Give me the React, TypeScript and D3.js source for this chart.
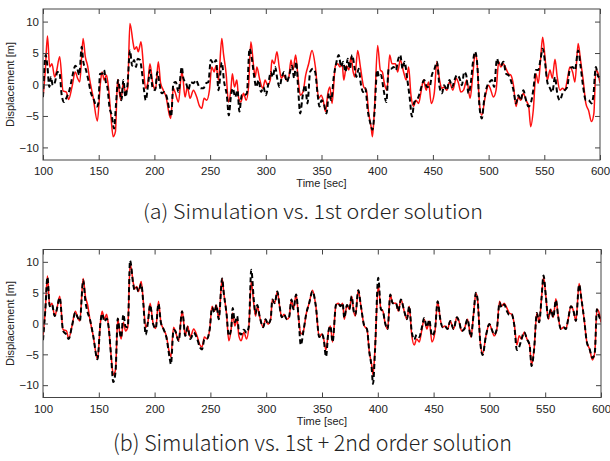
import React, { useEffect, useRef } from 'react';
import * as d3 from 'd3';

// [time (sec), displacement (m)]
const simulation: [number, number][] = [
  [100, -2], [102, 2], [104, 7.7], [106, 2.8], [108, 3.3], [110.5, 1.2], [112, 2], [115, 4.4], [118, -1], [121, -1.2],
  [123, -2.4], [126, -0.4], [129, 2], [131, 1], [133, 0.4], [136, 7.3], [138, 4.4], [140, 3], [142, 0.7], [145, -2],
  [148.8, -5.8], [151.5, 0.2], [153, 2], [155, 0.7], [157, 1.5], [159, -0.9], [161, -5.1], [163, -8.3], [165, -7.5], [167, 0.8],
  [168.5, -1.2], [170, -2.5], [172, 0.2], [174, -1.2], [176, -0.6], [178, 9.7], [181, 6.5], [182, 5.6], [184, 6], [185.5, 5.2],
  [188, 6.8], [190, 3.3], [192, -0.6], [194, 0.2], [196, 3.3], [198.5, 0.2], [201, -0.8], [203.5, 3.6], [205.6, 0.2], [208, -0.9],
  [210.5, -2], [213.5, -4.9], [214.6, -5.4], [217, -0.6], [218.5, -1.2], [221.6, -2.8], [224.6, 2], [225.5, 1.2], [227.5, -2], [229.6, -0.4],
  [232, -2.2], [235, -0.9], [238, -2], [240.4, -3.4], [242.5, -3.8], [244.6, -2.2], [247, -2.5], [249.4, -0.9], [251.5, 2.8], [253.6, 2],
  [255.4, 3], [257.5, 0.7], [260.5, 7.3], [262, 4.9], [264.4, 1.7], [266.5, -2.8], [268.6, -0.9], [270, 1.7], [271.9, -0.4], [274, 0.7],
  [275.5, -2], [277.6, -2.8], [280, -1.4], [282.4, -2.5], [284.5, -0.4], [286.6, 6.8], [289, 3], [290.5, 1.2], [292, 2.8], [294.3, 1],
  [297.3, -0.6], [299.4, 0.7], [301.5, -0.1], [304, 0.7], [305.5, 3.9], [307.6, 3.3], [310, 5.2], [312, 2.8], [314, 1], [316, 1.5],
  [318.4, 0.7], [320.5, 1], [322.6, 3.9], [324.4, 2.3], [326.8, 4.7], [328.9, 1.2], [331, -1.7], [333.4, -1.2], [335.8, 1.5], [338.5, 3.3],
  [341.5, 5.4], [344.5, 2.8], [347.5, -2.2], [349.7, -1.7], [351.5, -2.5], [353.6, -4.3], [355.7, -1.4], [357.5, -0.4], [359.5, -3], [362.5, 3],
  [364.6, 3.3], [366.4, 2.8], [368.5, 3.3], [370, 0.7], [372.4, 3], [374.5, 2.3], [376.6, 4.4], [378.4, 2], [379.9, 1.2], [382.5, 5.4],
  [384.9, 2.8], [387.9, -0.4], [390.3, -0.9], [392.4, -4.6], [394.5, -6.7], [395.7, -8.3], [397.5, -4.1], [400.4, 6.2], [402.8, 2.3], [404.6, 2],
  [406.4, 0.2], [408.8, -0.9], [411.2, 4.7], [413.3, 3.3], [416.3, 3.3], [418.4, 2], [420.7, 3.9], [423.7, 2], [426.1, 0.7], [428.2, 2.8],
  [430.3, -1.7], [432.7, -3.5], [434.8, -2.5], [437.2, -3], [439.3, -1.2], [441.6, 0.7], [444, -0.9], [446.1, 0.4], [448.5, -3], [451.2, -1.4],
  [453.6, 3.6], [456, 0.7], [458, -0.6], [460.1, -0.4], [462.5, -0.9], [464.9, 0.4], [467.9, -0.9], [470.9, 1], [473, 0.2], [475.1, -1.2],
  [477.5, -0.9], [480.4, 0.7], [483.4, -2.2], [485.8, 1.5], [487.9, 4.9], [489.4, 3.9], [491.8, -3], [493.9, -4.9], [496.9, -2], [500, -0.1],
  [502, -0.9], [504.3, -2], [506.7, -0.9], [509.1, 3.6], [510.9, 2.8], [513.3, 3.3], [515.7, 2.5], [517.8, 1.7], [519.9, 1.5], [522.3, -0.1],
  [524.6, -3.5], [526.7, -2], [528.8, -2.5], [531.2, -1.4], [533.6, -2.5], [536, -3.5], [537.8, -6.7], [540.1, -4.1], [542.5, 1.7], [544.6, 0.2],
  [546.7, 4.1], [548.5, 7.5], [550.6, 4.4], [552.7, 0.7], [555.1, 2.3], [557.2, 1], [559.6, 4], [561.6, 1.2], [564, -0.9], [566.4, -0.6],
  [568.5, -0.9], [570.6, 0.7], [573, 2.8], [575.4, 2], [577.5, 0.4], [580.4, 6.5], [582.5, 3.9], [584.9, 0.7], [587.3, -3], [589.7, -4.1],
  [592.4, -5.9], [594.5, -4.6], [596.3, 2.3], [597.8, 2], [600, 0.2],
];

const firstOrder: [number, number][] = [
  [100, -2], [102.4, 4.7], [104, 2.8], [105.7, -0.4], [107.2, 1.2], [108.7, -0.1], [110.8, 0.4], [112.9, 2], [114.7, 2], [116.8, -1.7],
  [118.9, -2.8], [121.3, -2], [123.7, -0.9], [125.7, 0.7], [127.2, 2], [129, 3], [130.8, 2.5], [132.6, 1.5], [134.7, 6], [136.2, 3.6],
  [138.6, 2.3], [140.7, 0.7], [143.1, -1.4], [145.2, -2.2], [148.2, -3.5], [149.7, -3], [151.2, 1.7], [153, 1.7], [154.8, 2.3], [156.6, 0.2],
  [157.8, -0.4], [159.6, -3.5], [161.7, -4.9], [163.8, -7], [165.6, -3], [167.4, 0.7], [168.6, -0.4], [170.4, -2.5], [172.2, 0.7], [174, -2],
  [175.8, -0.1], [178.1, 5.4], [180, 3], [181.7, 3.9], [183.5, 2.8], [185, 4.1], [187.1, 3.9], [188.6, 2.3], [190.7, -0.9], [192.2, -2.5],
  [194.6, 0.4], [196.1, 2.3], [198.5, -0.6], [200.6, -0.9], [202.7, 2], [204.5, 0.2], [206.6, -1.4], [208.7, -1.2], [211.1, -2], [213.5, -4.1],
  [215, -5.1], [217.1, 0.2], [219.2, 0.4], [221.6, -1.2], [224.6, 2.8], [226, 1], [228.5, 0.2], [230.5, -0.9], [232.6, 0.4], [235, 0.2],
  [237.4, 0.7], [239.5, -0.1], [241.6, -0.6], [244, -0.6], [246.4, 0.2], [248.5, 0.4], [250.6, 3.9], [253, 3.3], [255.4, 3.9], [257.5, -0.9],
  [260.5, 3.5], [262.6, 0.4], [265, -1.7], [266.8, -4.9], [268.6, -2], [270.4, -0.6], [272.5, -2], [274.6, -0.9], [276.3, -4.3], [278.4, -1.7],
  [280.8, -1.7], [283, -1.4], [285.4, 5.7], [287.5, 4.1], [289.6, 1.2], [291.4, -0.4], [293.5, 0.7], [295.8, -1.2], [297.9, -0.4], [300, -1.7],
  [302.4, 0.2], [304.5, 2], [306.3, 1.2], [308.4, 2.8], [310.5, 0.7], [312.3, -0.4], [314.4, 1.2], [316.5, 2], [318.9, 0.4], [321.3, 1.7],
  [323.4, 3], [325.5, 1], [327.2, 3.6], [329.3, -1.4], [330.8, -4.6], [333.2, -1.7], [335.3, -0.1], [337.4, -3], [339.8, 2], [342.2, 2.5],
  [344.3, 2], [346.4, -1.4], [348.2, -3.5], [350, -2.5], [352, -3], [354.5, -4.6], [356.6, -1.4], [358.7, -2.5], [361, 1.2], [363.1, 3.3],
  [365.5, 4.7], [367.6, 2.8], [369.4, 3.6], [371.5, 2], [373.6, 4.1], [375.4, 2.5], [377.5, 4.7], [379.6, 2.8], [381.3, 1.2], [383.4, 2.5],
  [385.5, -0.1], [387.3, -1.2], [389.4, -0.6], [391.5, -4.1], [393.9, -6.2], [395.7, -7.2], [397.5, -4.6], [400, 2.3], [401.6, 1.2], [403.4, 1.5],
  [405.8, -0.9], [408.2, -2.8], [410.3, 2.5], [412.4, 2.5], [414.8, 2.8], [416.9, 2.3], [418.7, 3.9], [420.7, 4.7], [422.8, 2.5], [424.6, 3.6],
  [426.7, 1.2], [429.1, -2], [431.2, -5.1], [433.3, -2.8], [435.7, -2.5], [438.1, -1.4], [440.1, -0.1], [442.2, 0.7], [444.6, -0.4], [447, -0.4],
  [449.1, 1.5], [451.5, 2.5], [453.6, 3.6], [456, -0.4], [458.1, -1.4], [460.1, -0.1], [462.5, -0.9], [464.9, 0.7], [467.3, -0.4], [469.4, 0.7],
  [471.5, 1.5], [473.9, 1], [476, -0.1], [478.1, 2], [479.9, 1.5], [481.9, -1.4], [484, 0.2], [485.8, 3.3], [487.9, 5.2], [490, 2.8],
  [491.8, -3.5], [493.9, -5.4], [496, -2.5], [498.4, -0.4], [500.9, 0.4], [503, 0.7], [505, -0.4], [507.5, 4.1], [509, 3.3], [511, 3],
  [513.3, 3.6], [515.7, 1.7], [517.8, 1.5], [519.9, 0.7], [522.3, -0.9], [524.6, -3], [526.7, -1.7], [528.8, -2.5], [531.2, -0.9], [533.6, -2.5],
  [535.7, -3.5], [537.8, -3], [540.1, -0.9], [542.5, 2.3], [544.6, 2.3], [546.7, 4.1], [548.5, 5.7], [550.6, 3.6], [552.7, 0.4], [555.1, -0.6],
  [557.2, -1.2], [559.6, 1.2], [561.6, -1.4], [564, -2.5], [566.4, -1.4], [568.5, -0.9], [570.6, -0.4], [573, 2.5], [575.4, 2.8], [577.5, 2.3],
  [580.4, 5.4], [582.5, 3], [584.9, -0.4], [587.3, -2.5], [589.7, -2.5], [592.4, -3], [593.9, -2], [596.3, 2.8], [598.4, 1.2], [600, 1.5],
];

const secondOrder: [number, number][] = [
  [100, -2.7], [102, 2], [104, 7.5], [106, 2.8], [108, 3.1], [110.5, 1.2], [112, 2], [115, 4.2], [118, -1.2], [121, -1.8],
  [123, -2.5], [126, -0.4], [129, 1.8], [131, 1], [133, 0.4], [136, 7], [138, 3.6], [140, 1.8], [142, 0.7], [145, -2],
  [148.8, -5.8], [151.5, 0.2], [153, 1.6], [155, 0.3], [157, 0.8], [159, -0.9], [161, -5.3], [163, -9.5], [165, -7.8], [167, 0.8],
  [168.5, -1], [170, -2.3], [172, 1.5], [174, -0.5], [176, -0.6], [178, 10.2], [181, 6.2], [182, 5.4], [184, 5.8], [185.5, 5.2],
  [188, 6.4], [190, 3], [192, -1.8], [194, 0.2], [196, 3], [198.5, 0], [201, -0.8], [203.5, 3.2], [205.6, 0.2], [208, -0.9],
  [210.5, -2.2], [213.5, -5.6], [214.6, -6.6], [217, -1], [218.5, -1.2], [221.6, -2.8], [224.6, 2], [225.5, 1.2], [227.5, -2], [229.6, -0.6],
  [232, -2.5], [235, -1.5], [238, -2.4], [240.4, -3.8], [242.5, -4.2], [244.6, -2.6], [247, -2.5], [249.4, -0.9], [251.5, 2.6], [253.6, 1.8],
  [255.4, 3], [257.5, 0.7], [260.5, 7.3], [262, 4.9], [264.4, 1.7], [266.5, -2], [268.6, -0.9], [270, 2.5], [271.9, 0.2], [274, 1.2],
  [275.5, -1.2], [277.6, -1.8], [280, -1], [282.4, -1.5], [284.5, -0.4], [286.6, 8.7], [289, 3.6], [290.5, 1.6], [292, 3], [294.3, 1],
  [297.3, -0.6], [299.4, 0.7], [301.5, -0.1], [304, 0.7], [305.5, 3.9], [307.6, 3.3], [310, 5.2], [312, 2.8], [314, 1], [316, 1.5],
  [318.4, 0.7], [320.5, 1], [322.6, 3.9], [324.4, 2.3], [326.8, 4.7], [328.9, 1.2], [331, -3.5], [333.4, -1.2], [335.8, 1.5], [338.5, 3.3],
  [341.5, 5.2], [344.5, 2.8], [347.5, -2.2], [349.7, -1.7], [351.5, -2.5], [353.6, -5.4], [355.7, -1.4], [357.5, -0.4], [359.5, -3], [362.5, 3],
  [364.6, 3.3], [366.4, 2.8], [368.5, 3.3], [370, 0.9], [372.4, 3], [374.5, 2.3], [376.6, 4.4], [378.4, 2], [379.9, 1.4], [382.5, 5.4],
  [384.9, 2.8], [387.9, -0.4], [390.3, -0.9], [392.4, -4.6], [394.5, -7.2], [395.7, -9.8], [397.5, -4.4], [400.4, 7.4], [402.8, 2.3], [404.6, 2],
  [406.4, 0.2], [408.8, -0.9], [411.2, 4.7], [413.3, 3.3], [416.3, 3.3], [418.4, 2], [420.7, 3.9], [423.7, 2], [426.1, 0.7], [428.2, 2.8],
  [430.3, -1.2], [432.7, -2.6], [434.8, -1.8], [437.2, -2.2], [439.3, -0.8], [441.6, 0.9], [444, -0.6], [446.1, 0.6], [448.5, -2], [451.2, -1],
  [453.6, 3.6], [456, 0.7], [458, -0.6], [460.1, -0.4], [462.5, -0.9], [464.9, 0.4], [467.9, -0.9], [470.9, 1], [473, 0.2], [475.1, -1.2],
  [477.5, -0.9], [480.4, 0.7], [483.4, -2.2], [485.8, 1.5], [487.9, 5], [489.4, 3.9], [491.8, -3], [493.9, -5.1], [496.9, -2], [500, -0.1],
  [502, -0.9], [504.3, -1.8], [506.7, -0.9], [509.1, 3.4], [510.9, 2.6], [513.3, 3.1], [515.7, 2], [517.8, 1.4], [519.9, 1.5], [522.3, -0.3],
  [524.6, -4.3], [526.7, -3.8], [528.8, -2.5], [531.2, -1.4], [533.6, -2.5], [536, -3.5], [537.8, -6.9], [540.1, -4.1], [542.5, 1.7], [544.6, 0.2],
  [546.7, 4.1], [548.5, 7.8], [550.6, 4.4], [552.7, 0.9], [555.1, 2.3], [557.2, 1], [559.6, 3.8], [561.6, 1.2], [564, -0.9], [566.4, -0.6],
  [568.5, -0.9], [570.6, 0.7], [573, 2.8], [575.4, 2], [577.5, 0.4], [580.4, 6.3], [582.5, 3.9], [584.9, 0.7], [587.3, -3], [589.7, -4.1],
  [592.4, -5.6], [594.5, -4.6], [596.3, 2.3], [597.8, 1.4], [600, 0.4],
];

const xTicks = [100, 150, 200, 250, 300, 350, 400, 450, 500, 550, 600];
const yTicks = [-10, -5, 0, 5, 10];
const captions = ['(a) Simulation vs. 1st order solution', '(b) Simulation vs. 1st + 2nd order solution'];

const panels = [
  { model: firstOrder, top: 9, bottom: 160, right: 600, caption: captions[0], capY: 219, capX0: 143, capW: 340, capSize: 20 },
  { model: secondOrder, top: 249.5, bottom: 397.5, right: 601, caption: captions[1], capY: 451, capX0: 113, capW: 399, capSize: 22 },
];

export default function App() {
  const ref = useRef<SVGSVGElement>(null);

  useEffect(() => {
    const svg = d3.select(ref.current);
    svg.selectAll('*').remove();
    const axisFont = 'Liberation Sans, Arial, sans-serif';
    const left = 43;

    panels.forEach((p, i) => {
      const x = d3.scaleLinear().domain([100, 600]).range([left, p.right]);
      const y = d3.scaleLinear().domain([-12, 12]).range([p.bottom, p.top]);
      const g = svg.append('g');

      const clipId = `clip${i}`;
      g.append('clipPath').attr('id', clipId)
        .append('rect')
        .attr('x', left).attr('y', p.top)
        .attr('width', p.right - left).attr('height', p.bottom - p.top);

      const line = d3.line<[number, number]>()
        .x(d => x(d[0]))
        .y(d => y(d[1]))
        .curve(d3.curveMonotoneX);

      const lines = g.append('g').attr('clip-path', `url(#${clipId})`);
      lines.append('path')
        .datum(simulation)
        .attr('d', line)
        .attr('fill', 'none')
        .attr('stroke', '#ff1010')
        .attr('stroke-width', 1.5);
      lines.append('path')
        .datum(p.model)
        .attr('d', line)
        .attr('fill', 'none')
        .attr('stroke', '#000')
        .attr('stroke-width', 2)
        .attr('stroke-dasharray', '5,3');

      // axes: inward ticks on every side, labels only bottom/left
      const bottomAxis = d3.axisBottom(x).tickValues(xTicks).tickSizeInner(-5).tickSizeOuter(0).tickPadding(7);
      const topAxis = d3.axisTop(x).tickValues(xTicks).tickSizeInner(-5).tickSizeOuter(0).tickFormat(() => '');
      const leftAxis = d3.axisLeft(y).tickValues(yTicks).tickSizeInner(-5).tickSizeOuter(0).tickPadding(4);
      const rightAxis = d3.axisRight(y).tickValues(yTicks).tickSizeInner(-5).tickSizeOuter(0).tickFormat(() => '');

      const ax = [
        g.append('g').attr('transform', `translate(0,${p.bottom})`).call(bottomAxis),
        g.append('g').attr('transform', `translate(0,${p.top})`).call(topAxis),
        g.append('g').attr('transform', `translate(${left},0)`).call(leftAxis),
        g.append('g').attr('transform', `translate(${p.right},0)`).call(rightAxis),
      ];
      ax.forEach(a => {
        a.select('.domain').remove();
        a.selectAll('line').attr('stroke', '#444');
        a.selectAll('text').attr('font-family', axisFont).attr('font-size', 11.5).attr('fill', '#222');
      });

      g.append('rect')
        .attr('x', left).attr('y', p.top)
        .attr('width', p.right - left).attr('height', p.bottom - p.top)
        .attr('fill', 'none')
        .attr('stroke', '#444')
        .attr('stroke-width', 1);

      g.append('text')
        .attr('x', (left + p.right) / 2)
        .attr('y', p.bottom + 27)
        .attr('text-anchor', 'middle')
        .attr('font-family', axisFont)
        .attr('font-size', 11)
        .attr('fill', '#222')
        .text('Time [sec]');

      g.append('text')
        .attr('transform', `translate(14,${(p.top + p.bottom) / 2}) rotate(-90)`)
        .attr('text-anchor', 'middle')
        .attr('font-family', axisFont)
        .attr('font-size', 11)
        .attr('fill', '#222')
        .text('Displacement [m]');

      g.append('text')
        .attr('x', p.capX0)
        .attr('y', p.capY)
        .attr('font-family', '"Noto Sans CJK KR", "Noto Sans", sans-serif')
        .attr('font-weight', 300)
        .attr('font-size', p.capSize)
        .attr('textLength', p.capW)
        .attr('lengthAdjust', 'spacingAndGlyphs')
        .attr('fill', '#222')
        .text(p.caption);
    });
  }, []);

  return (
    <svg
      ref={ref}
      width={610}
      height={461}
      style={{ position: 'absolute', left: 0, top: 0, background: '#fff' }}
    />
  );
}
